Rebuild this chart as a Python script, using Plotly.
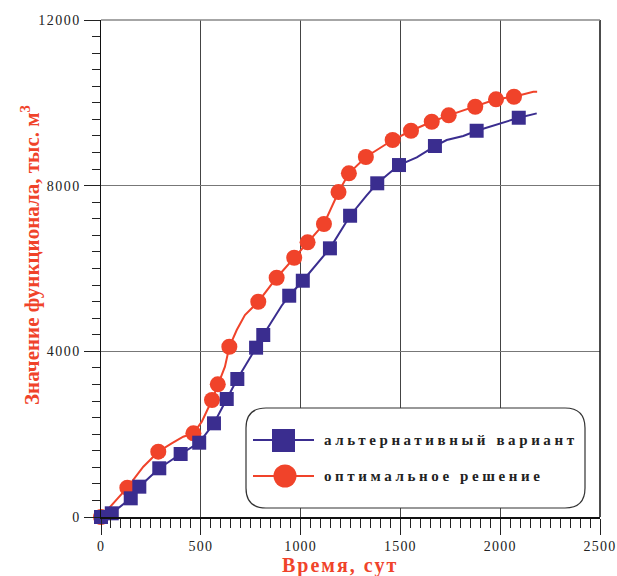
import plotly.graph_objects as go

# ---------------- data ----------------
# "оптимальное решение" (red): line path and marker points
red_line_x = [0, 45, 132, 212, 287, 354, 412, 463, 505, 556, 585, 621, 643, 680, 721, 788,
              880, 968, 1035, 1117, 1190, 1242, 1327, 1461, 1553, 1657, 1742, 1875, 1979, 2069, 2166, 2185]
red_line_v = [0, 250, 707, 1214, 1577, 1779, 1939, 2021, 2301, 2825, 3204, 3629, 4111, 4515, 4877, 5198,
              5777, 6260, 6632, 7074, 7846, 8298, 8692, 9102, 9326, 9544, 9698, 9906, 10084, 10147, 10268, 10268]
red_mark_x = [0, 132, 287, 463, 556, 585, 643, 788, 880, 968, 1035, 1117, 1190, 1242, 1327,
              1461, 1553, 1657, 1742, 1875, 1979, 2069]
red_mark_v = [0, 707, 1577, 2021, 2825, 3204, 4111, 5198, 5777, 6260, 6632, 7074, 7846, 8298, 8692,
              9102, 9326, 9544, 9698, 9906, 10084, 10147]

# "альтернативный вариант" (blue)
blue_line_x = [0, 54, 149, 192, 292, 399, 492, 566, 630, 683, 777, 813, 905, 943, 1011, 1147, 1248,
               1300, 1330, 1384, 1493, 1582, 1615, 1673, 1732, 1815, 1882, 2093, 2183]
blue_line_v = [0, 89, 451, 732, 1176, 1521, 1794, 2262, 2849, 3332, 4088, 4394, 5100, 5343, 5705, 6487, 7274,
               7600, 7760, 8057, 8498, 8684, 8780, 8957, 9102, 9198, 9326, 9640, 9746]
blue_mark_x = [0, 54, 149, 192, 292, 399, 492, 566, 630, 683, 777, 813, 943, 1011, 1147, 1248,
               1384, 1493, 1673, 1882, 2093]
blue_mark_v = [0, 89, 451, 732, 1176, 1521, 1794, 2262, 2849, 3332, 4088, 4394, 5343, 5705, 6487, 7274,
               8057, 8498, 8957, 9326, 9640]

x_ticks = [0, 500, 1000, 1500, 2000, 2500]
y_ticks = [0, 4000, 8000, 12000]
series_names = ["альтернативный вариант", "оптимальное решение"]
x_title = "Время, сут"
y_title = "Значение функционала, тыс. м<sup>3</sup>"

# ---------------- style ----------------
RED = "#f0432a"
BLUE = "#3a2d8f"
SERIF = "Liberation Serif"
W, H = 617, 576
PL, PR, PT, PB = 101, 600, 20, 517   # plot area in window pixels
L, T = PL, PT
R, B = W - PR, H - PB
PW, PH = PR - PL, PB - PT


def px(x):
    return (x - PL) / PW


def py(y):
    return (PB - y) / PH


def spaced(t, s):
    return '<span style="letter-spacing:%spx">%s</span>' % (s, t)


fig = go.Figure()
fig.add_trace(go.Scatter(x=red_line_x, y=red_line_v, mode="lines",
                         line=dict(color=RED, width=2), cliponaxis=False, showlegend=False))
fig.add_trace(go.Scatter(x=red_mark_x, y=red_mark_v, mode="markers",
                         marker=dict(color=RED, size=16, symbol="circle"), cliponaxis=False,
                         showlegend=False))
fig.add_trace(go.Scatter(x=blue_line_x, y=blue_line_v, mode="lines",
                         line=dict(color=BLUE, width=2), cliponaxis=False, showlegend=False))
fig.add_trace(go.Scatter(x=blue_mark_x, y=blue_mark_v, mode="markers",
                         marker=dict(color=BLUE, size=14, symbol="square"), cliponaxis=False,
                         showlegend=False))

tickfont = dict(family=SERIF, size=14, color="#222")
fig.update_xaxes(range=[0, 2500], tickvals=x_ticks, ticktext=[spaced(str(v), 1.2) for v in x_ticks],
                 ticks="outside", ticklen=16, tickcolor="#222", tickwidth=1,
                 showline=True, linecolor="#111", linewidth=1.5,
                 showgrid=True, gridcolor="#444", gridwidth=1, zeroline=False,
                 minor=dict(dtick=50, ticks="outside", ticklen=9, tickcolor="#222", showgrid=False),
                 tickfont=tickfont, fixedrange=True, automargin=False)
fig.update_yaxes(range=[0, 12000], tickvals=y_ticks, ticktext=[spaced(str(v), 1.5) for v in y_ticks],
                 ticks="outside", ticklen=16, tickcolor="#222", tickwidth=1,
                 showline=True, linecolor="#111", linewidth=1.5,
                 showgrid=True, gridcolor="#777", gridwidth=1.5, zeroline=False,
                 minor=dict(dtick=400, ticks="outside", ticklen=8, tickcolor="#222", showgrid=False),
                 tickfont=tickfont, fixedrange=True, automargin=False)

shapes = []
# right border and top line
shapes.append(dict(type="line", xref="paper", yref="paper", x0=1, x1=1, y0=0, y1=1,
                   line=dict(color="#111", width=1.5)))
shapes.append(dict(type="line", xref="paper", yref="paper", x0=0, x1=1, y0=1, y1=1,
                   line=dict(color="#888", width=1.5)))

# legend box (rounded rectangle) in pixel -> paper
bl, br, bt, bb, rad = 246, 585, 408, 508, 20
path = ("M {a},{b} L {c},{b} Q {d},{b} {d},{e} L {d},{f} Q {d},{g} {c},{g} "
        "L {a},{g} Q {h},{g} {h},{f} L {h},{e} Q {h},{b} {a},{b} Z").format(
    a=px(bl + rad), b=py(bt), c=px(br - rad), d=px(br), e=py(bt + rad), f=py(bb - rad),
    g=py(bb), h=px(bl))
shapes.append(dict(type="path", xref="paper", yref="paper", path=path,
                   fillcolor="white", line=dict(color="#333", width=1.2), layer="above"))
# legend item 1: blue
shapes.append(dict(type="line", xref="paper", yref="paper", x0=px(253), x1=px(314), y0=py(440), y1=py(440),
                   line=dict(color=BLUE, width=2), layer="above"))
shapes.append(dict(type="rect", xref="paper", yref="paper", x0=px(272), x1=px(295), y0=py(429), y1=py(452),
                   fillcolor=BLUE, line=dict(width=0), layer="above"))
# legend item 2: red
shapes.append(dict(type="line", xref="paper", yref="paper", x0=px(253), x1=px(314), y0=py(476), y1=py(476),
                   line=dict(color=RED, width=2), layer="above"))
shapes.append(dict(type="circle", xref="paper", yref="paper", x0=px(273.5), x1=px(296.5), y0=py(464.5),
                   y1=py(487.5), fillcolor=RED, line=dict(width=0), layer="above"))

annotations = []
for name, yy in zip(series_names, [440, 476]):
    annotations.append(dict(text="<b>" + spaced(name, 3.6) + "</b>", xref="paper", yref="paper",
                            x=px(322), y=py(yy), xanchor="left", yanchor="middle", showarrow=False,
                            font=dict(family=SERIF, size=15, color="#222")))
annotations.append(dict(text="<b>" + spaced(x_title, 2) + "</b>", xref="paper", yref="paper",
                        x=px(340), y=py(565), xanchor="center", yanchor="middle", showarrow=False,
                        font=dict(family=SERIF, size=20, color=RED)))
annotations.append(dict(text="<b>" + y_title + "</b>", xref="paper", yref="paper",
                        x=px(30), y=py(255), xanchor="center", yanchor="middle", showarrow=False,
                        textangle=-90, font=dict(family=SERIF, size=21, color=RED)))

fig.update_layout(width=W, height=H, margin=dict(l=L, r=R, t=T, b=B),
                  paper_bgcolor="white", plot_bgcolor="white",
                  shapes=shapes, annotations=annotations, showlegend=False)

fig.write_html("out.html", config={"displayModeBar": False, "staticPlot": True},
               post_script="document.body.style.margin='0';document.body.style.overflow='hidden';")
